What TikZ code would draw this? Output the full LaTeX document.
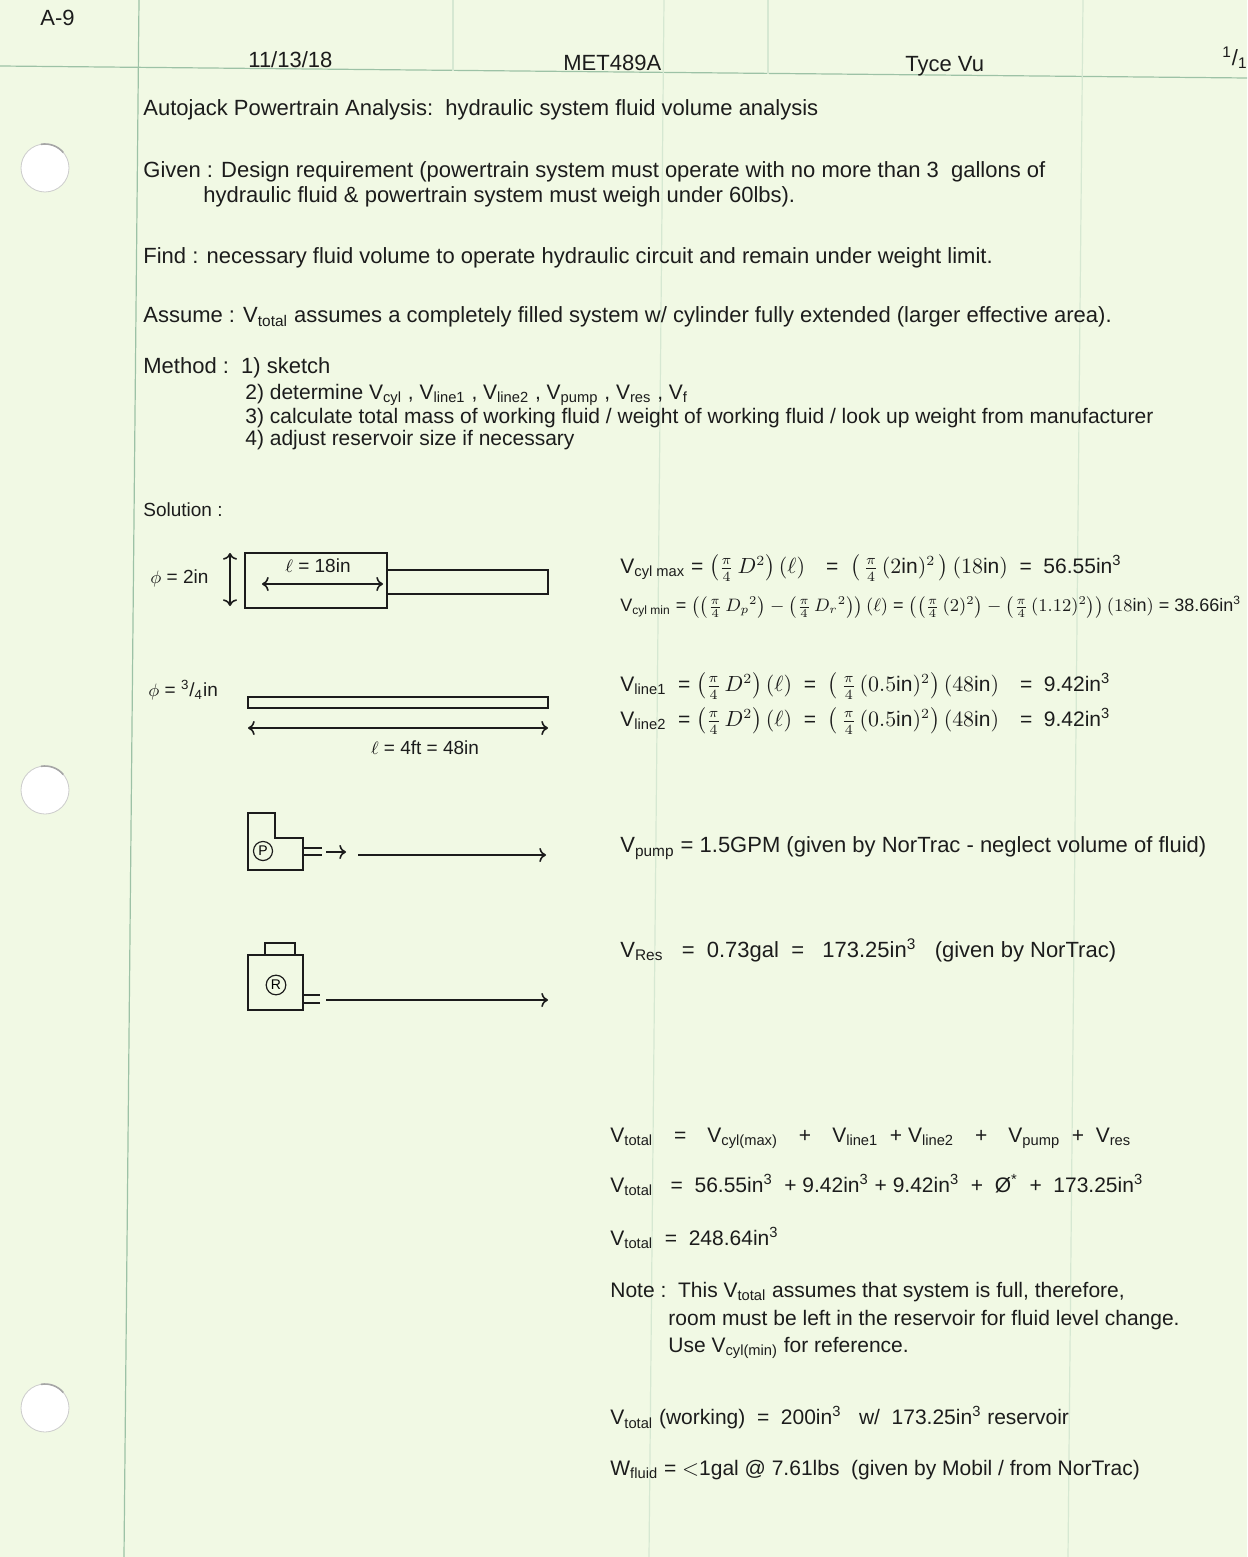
\documentclass[tikz,border=0pt]{standalone}
\usepackage{fontspec}
\setmainfont{Liberation Sans}
\usepackage{amsmath}
\usetikzlibrary{arrows.meta}

\definecolor{paper}{HTML}{F1F9E4}
\definecolor{rulegreen}{HTML}{9DC2A6}
\definecolor{faintgreen}{HTML}{D6E8D2}
\definecolor{ink}{HTML}{1C1C1C}

\newcommand{\Vx}[1]{V\textsubscript{#1}}
\newcommand{\cub}{in\textsuperscript{3}}
\newcommand{\qpi}{\tfrac{\pi}{4}}

\tikzset{
  hand/.style={text=ink, inner sep=0pt, anchor=west, font=\fontsize{11}{13}\selectfont},
  midhand/.style={hand, font=\fontsize{10.5}{12}\selectfont},
  smallhand/.style={hand, font=\fontsize{9.5}{11}\selectfont},
  tinyhand/.style={hand, font=\fontsize{9}{11}\selectfont},
  pen/.style={draw=ink, line width=0.8pt},
  printed/.style={draw=rulegreen, line width=0.6pt},
  showthrough/.style={draw=faintgreen, line width=0.6pt},
  hole/.style={fill=white, draw=black!20, line width=0.4pt},
}

\begin{document}
\begin{tikzpicture}[x=0.5pt,y=-0.5pt]

  % sheet
  \fill[paper] (0,0) rectangle (1247,1557);
  \useasboundingbox (0,0) rectangle (1247,1557);

  % printed rules of the pad
  \draw[printed] (0,66) -- (1247,78);
  \draw[printed] (139,0) -- (124,1557);
  \draw[showthrough] (453,0) -- (453,71);
  \draw[showthrough] (768,0) -- (768,74);
  \draw[showthrough] (664,0) -- (649,1557);
  \draw[showthrough] (1083,0) -- (1068,1557);

  % punched holes
  \foreach \hy/\hn in {168/a, 790/b, 1408/c}{
    \draw[hole] (45,\hy) circle[radius=12pt] coordinate (hole\hn);
    \draw[black!35, line width=0.8pt] (45,\hy) ++(100:12pt) arc[start angle=100, end angle=40, radius=12pt];
  }

  % header
  \node[hand] (sheetno) at (40,18) {A-9};
  \node[hand] (date) at (248,60) {11/13/18};
  \node[hand] (course) at (563,63) {MET489A};
  \node[hand] (author) at (905,66) {Tyce Vu};
  \node[hand] (pageno) at (1222,58) {\textsuperscript{1}/\textsubscript{1}};

  % problem statement
  \node[hand] (title) at (143,110)
    {Autojack Powertrain Analysis:\ \ hydraulic system fluid volume analysis};
  \node[hand] (given) at (143,172)
    {Given : Design requirement (powertrain system must operate with no more than 3\ \ gallons of};
  \node[hand] (given2) at (203,197)
    {hydraulic fluid \& powertrain system must weigh under 60lbs).};
  \node[hand] (find) at (143,258)
    {Find : necessary fluid volume to operate hydraulic circuit and remain under weight limit.};
  \node[hand] (assume) at (143,317)
    {Assume : \Vx{total} assumes a completely filled system w/ cylinder fully extended (larger effective area).};
  \node[hand] (method) at (143,368) {Method :\ \ 1) sketch};
  \node[midhand] (step2) at (245,395)
    {2) determine \Vx{cyl} , \Vx{line1} , \Vx{line2} , \Vx{pump} , \Vx{res} , \Vx{f}};
  \node[midhand] (step3) at (245,418)
    {3) calculate total mass of working fluid / weight of working fluid / look up weight from manufacturer};
  \node[midhand] (step4) at (245,440) {4) adjust reservoir size if necessary};
  \node[smallhand] (solution) at (143,510) {Solution :};

  % cylinder sketch
  \node[smallhand] (cyldia) at (150,578) {$\phi$ = 2in};
  \coordinate (diatop) at (230,553);
  \coordinate (diabot) at (230,606);
  \draw[pen, <->] (diatop) -- (diabot);
  \draw[pen] (245,553) rectangle (387,608);
  \draw[pen] (387,570) rectangle (548,594);
  \node[smallhand, anchor=center] (cyllen) at (318,566) {$\ell$ = 18in};
  \coordinate (strokeL) at (262,584);
  \coordinate (strokeR) at (383,584);
  \draw[pen, <->] (strokeL) -- (strokeR);

  \node[midhand] (vcylmax) at (620,568)
    {\Vx{cyl max} = $\bigl(\qpi\,D^2\bigr)\,(\ell)$\quad = \ $\bigl(\,\qpi\,(2\text{in})^2\,\bigr)\,(18\text{in})$\ \ = \ 56.55\cub};
  \node[tinyhand] (vcylmin) at (620,607)
    {\Vx{cyl min} = $\bigl(\bigl(\qpi\,{D_p}^{2}\bigr)-\bigl(\qpi\,{D_r}^{2}\bigr)\bigr)\,(\ell)$ = $\bigl(\bigl(\qpi\,(2)^2\bigr)-\bigl(\qpi\,(1.12)^2\bigr)\bigr)\,(18\text{in})$ = 38.66\cub};

  % line sketch
  \node[smallhand] (linedia) at (148,690) {$\phi$ = \textsuperscript{3}/\textsubscript{4}in};
  \draw[pen] (248,697) rectangle (548,708);
  \coordinate (lineL) at (248,728);
  \coordinate (lineR) at (548,728);
  \draw[pen, <->] (lineL) -- (lineR);
  \node[smallhand, anchor=center] (linelen) at (425,748) {$\ell$ = 4ft = 48in};

  \node[midhand] (vline1) at (620,686)
    {\Vx{line1}\ \ = $\bigl(\qpi\,D^2\bigr)\,(\ell)$\ \ = \ $\bigl(\,\qpi\,(0.5\text{in})^2\bigr)\,(48\text{in})$\quad = \ 9.42\cub};
  \node[midhand] (vline2) at (620,721)
    {\Vx{line2}\ \ = $\bigl(\qpi\,D^2\bigr)\,(\ell)$\ \ = \ $\bigl(\,\qpi\,(0.5\text{in})^2\bigr)\,(48\text{in})$\quad = \ 9.42\cub};

  % pump sketch
  \draw[pen] (248,813) -- (275,813) -- (275,838) -- (303,838) -- (303,870) -- (248,870) -- cycle;
  \node[circle, draw=ink, line width=0.6pt, inner sep=1pt, font=\fontsize{7}{8}\selectfont] (pumpP) at (263,851) {P};
  \draw[pen] (303,848) -- (322,848) (303,855) -- (322,855);
  \coordinate (pumpA) at (326,852);
  \coordinate (pumpB) at (346,852);
  \coordinate (pumpC) at (358,855);
  \coordinate (pumpD) at (546,855);
  \draw[pen, ->] (pumpA) -- (pumpB);
  \draw[pen, ->] (pumpC) -- (pumpD);
  \node[hand] (vpump) at (620,848)
    {\Vx{pump}\ = 1.5GPM (given by NorTrac - neglect volume of fluid)};

  % reservoir sketch
  \draw[pen] (265,943) rectangle (295,955);
  \draw[pen] (248,955) rectangle (303,1010);
  \node[circle, draw=ink, line width=0.6pt, inner sep=1pt, font=\fontsize{7}{8}\selectfont] (resR) at (276,985) {R};
  \draw[pen] (303,995) -- (320,995) (303,1003) -- (320,1003);
  \coordinate (resA) at (326,1000);
  \coordinate (resB) at (548,1000);
  \draw[pen, ->] (resA) -- (resB);
  \node[hand] (vres) at (620,950)
    {\Vx{Res}\ \ \ = \ 0.73gal\ \ = \ \ 173.25\cub\ \ \ (given by NorTrac)};

  % totals
  \node[midhand] (vtot1) at (610,1138)
    {\Vx{total}\quad =\quad \Vx{cyl(max)}\quad +\quad \Vx{line1}\ \ + \Vx{line2}\quad +\quad \Vx{pump}\ \ +\ \ \Vx{res}};
  \node[midhand] (vtot2) at (610,1185)
    {\Vx{total}\ \ \ =\ \ 56.55\cub\ \ + 9.42\cub\ + 9.42\cub\ \ +\ \ \O\textsuperscript{*}\ \ +\ \ 173.25\cub};
  \node[midhand] (vtot3) at (610,1238) {\Vx{total}\ \ =\ \ 248.64\cub};
  \node[midhand] (note1) at (610,1292)
    {Note :\ \ This \Vx{total} assumes that system is full, therefore,};
  \node[midhand] (note2) at (668,1320)
    {room must be left in the reservoir for fluid level change.};
  \node[midhand] (note3) at (668,1348) {Use \Vx{cyl(min)} for reference.};
  \node[midhand] (vwork) at (610,1418)
    {\Vx{total} (working)\ \ =\ \ 200\cub\ \ \ w/\ \ 173.25\cub\ reservoir};
  \node[midhand] (wfluid) at (610,1470)
    {W\textsubscript{fluid} = $<$1gal @ 7.61lbs\ \ (given by Mobil / from NorTrac)};

\end{tikzpicture}
\end{document}
